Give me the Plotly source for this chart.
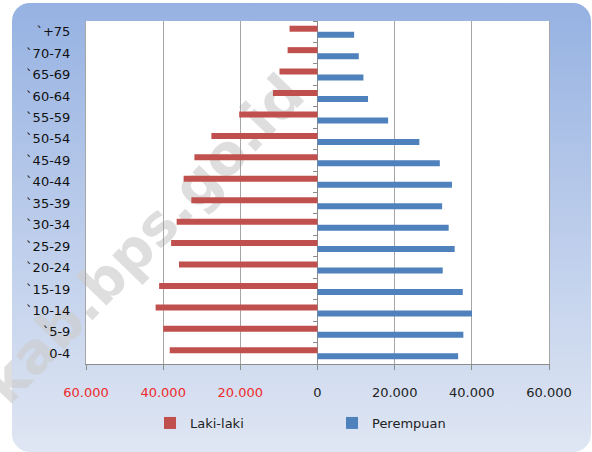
import base64
import plotly.graph_objects as go

categories = ["0-4", "`5-9", "`10-14", "`15-19", "`20-24", "`25-29", "`30-34", "`35-39",
              "`40-44", "`45-49", "`50-54", "`55-59", "`60-64", "`65-69", "`70-74", "`+75"]
laki = [38300, 40000, 41950, 41050, 35900, 37950, 36500, 32700,
        34700, 31900, 27500, 20300, 11550, 9850, 7750, 7250]
perempuan = [36450, 37800, 40050, 37650, 32450, 35550, 34000, 32300,
             34850, 31700, 26400, 18300, 13100, 11900, 10700, 9500]
tick_vals = [-60000, -40000, -20000, 0, 20000, 40000, 60000]
tick_text = ["60.000", "40.000", "20.000", "0", "20.000", "40.000", "60.000"]

W, H = 592, 452
L, R, T, B = 86, 43, 21, 88
pw, ph = W - L - R, H - T - B

RED = "#C0504D"
BLUE = "#4F81BD"
FONT = "DejaVu Sans"

svg = f'''<svg xmlns="http://www.w3.org/2000/svg" width="{W}" height="{H}" viewBox="0 0 {W} {H}" preserveAspectRatio="none">
<defs><linearGradient id="g" x1="0" y1="0" x2="0" y2="1">
<stop offset="0" stop-color="#96B2E2"/><stop offset="0.45" stop-color="#B8CAEA"/><stop offset="1" stop-color="#DFE6F3"/>
</linearGradient></defs>
<rect x="12" y="3" width="579" height="449" rx="18" ry="18" fill="url(#g)"/>
<rect x="{L}" y="{T}" width="{pw}" height="{ph}" fill="#FFFFFF"/>
</svg>'''
src = "data:image/svg+xml;base64," + base64.b64encode(svg.encode()).decode()

def px_x(p):
    return (p - L) / pw

def px_y(p):
    return (H - B - p) / ph

colored_text = []
for v, t in zip(tick_vals, tick_text):
    c = "#EE2A2A" if v < 0 else "#222222"
    colored_text.append(f'<span style="color:{c}">{t}</span>')

fig = go.Figure()
fig.add_trace(go.Bar(y=categories, x=perempuan, orientation="h", name="Perempuan",
                     marker=dict(color=BLUE, line=dict(width=0)), legend="legend2"))
fig.add_trace(go.Bar(y=categories, x=[-v for v in laki], orientation="h", name="Laki-laki",
                     marker=dict(color=RED, line=dict(width=0)), legend="legend"))
fig.add_trace(go.Scatter(y=categories, x=[0] * len(categories), yaxis="y2", mode="markers",
                         marker=dict(opacity=0), showlegend=False, hoverinfo="skip"))

fig.update_layout(
    width=W, height=H,
    margin=dict(l=L, r=R, t=T, b=B, autoexpand=False),
    paper_bgcolor="white",
    plot_bgcolor="rgba(0,0,0,0)",
    barmode="group", bargap=0.44, bargroupgap=0,
    font=dict(family=FONT, size=13, color="#222222"),
    xaxis=dict(range=[-60000, 60000], tickvals=tick_vals, ticktext=colored_text,
               showgrid=True, gridcolor="#A6A6A6", gridwidth=1,
               zeroline=True, zerolinecolor="#8C8C8C", zerolinewidth=1,
               showline=True, linecolor="#8C8C8C", linewidth=1,
               ticks="outside", ticklen=5, tickcolor="#8C8C8C", automargin=False,
               ticklabelstandoff=11, tickfont=dict(size=13)),
    yaxis=dict(type="category", categoryorder="array", categoryarray=categories,
               range=[-0.5, len(categories) - 0.5], automargin=False,
               showgrid=False, showline=True, mirror=True, linecolor="#A6A6A6", linewidth=1,
               ticks="", ticklabelstandoff=12, tickfont=dict(size=13, color="#111111")),
    yaxis2=dict(type="category", categoryorder="array", categoryarray=categories,
                range=[-0.5, len(categories) - 0.5], overlaying="y", anchor="free", position=0.5,
                side="left", showgrid=False, showline=False, showticklabels=False, automargin=False,
                ticks="outside", ticklen=5, tickcolor="#8C8C8C", tickson="boundaries"),
    legend=dict(orientation="h", x=px_x(150), xanchor="left", y=px_y(423), yanchor="middle",
                bgcolor="rgba(0,0,0,0)", font=dict(size=13, color="#222222")),
    legend2=dict(orientation="h", x=px_x(332), xanchor="left", y=px_y(423), yanchor="middle",
                 bgcolor="rgba(0,0,0,0)", font=dict(size=13, color="#222222")),
    images=[dict(source=src, xref="paper", yref="paper", x=px_x(0), y=px_y(0),
                 sizex=W / pw, sizey=H / ph, sizing="stretch", xanchor="left", yanchor="top",
                 layer="below")],
    shapes=[dict(type="rect", xref="paper", yref="paper",
                 x0=px_x(136), x1=px_x(146), y0=px_y(241), y1=px_y(231),
                 line=dict(width=0), fillcolor="rgba(0,0,0,0)", layer="below",
                 label=dict(text="<b>kab.bps.go.id</b>", textangle=-46, textposition="middle center",
                            font=dict(family="DejaVu Sans", size=56, color="rgba(205,205,205,0.65)")))],
)

fig.write_html("out.html", config={"displayModeBar": False},
               post_script="document.body.style.margin='0';document.body.style.overflow='hidden';")
